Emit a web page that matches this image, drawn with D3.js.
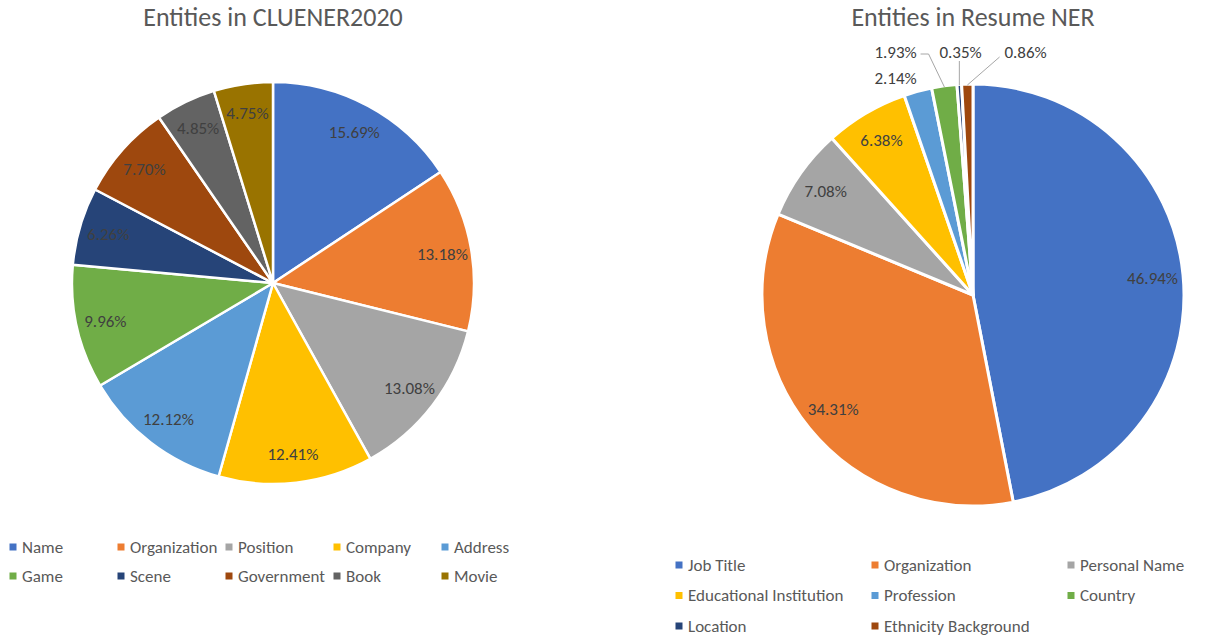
<!DOCTYPE html>
<html>
<head>
<style>
    body { margin: 0; background: #fff; }
    text { font-family: Calibri, Carlito, Lato, sans-serif; }
</style>
</head>
<body>
<svg width="1231" height="637" id="chart"></svg>
<script src="https://d3js.org/d3.v7.min.js"></script>
<script>
    const cluenerCategories = ["Name", "Organization", "Position", "Company", "Address",
        "Game", "Scene", "Government", "Book", "Movie"];
    const cluenerValues = [15.69, 13.18, 13.08, 12.41, 12.12, 9.96, 6.26, 7.70, 4.85, 4.75];

    const resumeCategories = ["Job Title", "Organization", "Personal Name", "Educational Institution",
        "Profession", "Country", "Location", "Ethnicity Background"];
    const resumeValues = [46.94, 34.31, 7.08, 6.38, 2.14, 1.93, 0.35, 0.86];

    const officeColors = ["#4472C4", "#ED7D31", "#A5A5A5", "#FFC000", "#5B9BD5",
        "#70AD47", "#264478", "#9E480E", "#636363", "#997300"];

    const svg = d3.select("#chart");

    drawPie({
        title: "Entities in CLUENER2020",
        categories: cluenerCategories,
        values: cluenerValues,
        cx: 273, cy: 283, r: 201, gap: 2.5,
        legendX: 13, legendY: 547, legendCols: 5, colW: 108, rowH: 29
    });

    drawPie({
        title: "Entities in Resume NER",
        categories: resumeCategories,
        values: resumeValues,
        cx: 973, cy: 295, r: 211, gap: 3,
        legendX: 679, legendY: 565, legendCols: 3, colW: 196, rowH: 30.5
    });

    function fmt(v) {
        return v.toFixed(2) + "%";
    }

    function drawPie(opt) {
        let data = opt.categories.map(function (c, i) {
            return {name: c, value: opt.values[i]};
        });
        let color = d3.scaleOrdinal().domain(opt.categories).range(officeColors);
        let pie = d3.pie().sort(null).value(function (d) { return d.value; });
        let arcs = pie(data);
        let arc = d3.arc().innerRadius(0).outerRadius(opt.r);

        svg.append("text")
            .attr("x", opt.cx)
            .attr("y", 26)
            .attr("text-anchor", "middle")
            .attr("fill", "#595959")
            .style("font-size", "26px")
            .text(opt.title);

        let g = svg.append("g").attr("transform", "translate(" + opt.cx + "," + opt.cy + ")");

        g.selectAll("path")
            .data(arcs)
            .enter().append("path")
            .attr("d", arc)
            .attr("fill", function (d) { return color(d.data.name); })
            .attr("stroke", "#fff")
            .attr("stroke-width", opt.gap)
            .attr("stroke-linejoin", "round");

        // labels inside for big slices, outside for small ones
        let inside = arcs.filter(function (d) { return d.data.value >= 3; });
        let outside = arcs.filter(function (d) { return d.data.value < 3; });

        g.selectAll("text.inlabel")
            .data(inside)
            .enter().append("text")
            .attr("class", "inlabel")
            .attr("x", function (d) { return Math.sin(mid(d)) * opt.r * 0.855; })
            .attr("y", function (d) { return -Math.cos(mid(d)) * opt.r * 0.855; })
            .attr("dy", "0.35em")
            .attr("text-anchor", "middle")
            .attr("fill", "#404040")
            .style("font-size", "17px")
            .text(function (d) { return fmt(d.data.value); });

        if (outside.length) {
            // first small slice sits just off its edge, the rest go in a row above the pie
            let labW = 48;
            let first = outside[0];
            let s = Math.sin(mid(first)), c = Math.cos(mid(first));
            let fx = s * (opt.r + 8) + (s < 0 ? -1 : 1) * labW * 0.42;
            let fy = -c * (opt.r + 8) - 6 * c;
            let rowY = -opt.r - 32;
            outside.forEach(function (d, i) {
                let lx = i === 0 ? fx : fx + (i - 1) * 65;
                let ly = i === 0 ? fy : rowY;
                g.append("text")
                    .attr("x", lx)
                    .attr("y", ly)
                    .attr("dy", "0.35em")
                    .attr("text-anchor", "middle")
                    .attr("fill", "#404040")
                    .style("font-size", "17px")
                    .text(fmt(d.data.value));
                if (i === 0) return;
                let px = Math.sin(mid(d)) * (opt.r - 1);
                let py = -Math.cos(mid(d)) * (opt.r - 1);
                let pts;
                if (px > lx + labW / 2) {
                    pts = [[lx + labW / 2 + 1, ly + 2], [lx + labW / 2 + 9, ly + 2], [px, py]];
                } else if (px < lx - labW / 2) {
                    pts = [[lx - labW / 2 - 2, ly + 5], [px, py]];
                } else {
                    pts = [[px, ly + 9], [px, py]];
                }
                g.append("path")
                    .attr("d", d3.line()(pts))
                    .attr("fill", "none")
                    .attr("stroke", "#A6A6A6")
                    .attr("stroke-width", 1);
            });
        }

        // legend
        let leg = svg.append("g");
        let item = leg.selectAll("g")
            .data(opt.categories)
            .enter().append("g")
            .attr("transform", function (d, i) {
                let col = i % opt.legendCols;
                let row = Math.floor(i / opt.legendCols);
                return "translate(" + (opt.legendX + col * opt.colW) + "," + (opt.legendY + row * opt.rowH) + ")";
            });
        item.append("rect")
            .attr("x", -3.5)
            .attr("y", -3.5)
            .attr("width", 7)
            .attr("height", 7)
            .attr("fill", function (d) { return color(d); });
        item.append("text")
            .attr("x", 9)
            .attr("dy", "0.35em")
            .attr("fill", "#595959")
            .style("font-size", "17px")
            .text(function (d) { return d; });
    }

    function mid(d) {
        return (d.startAngle + d.endAngle) / 2;
    }
</script>
</body>
</html>
